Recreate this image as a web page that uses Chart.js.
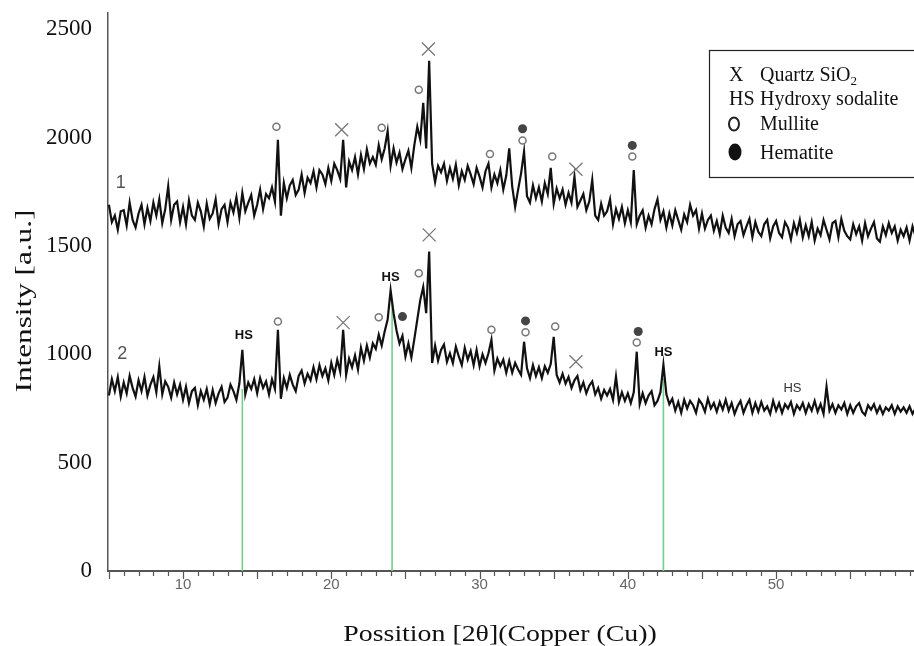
<!DOCTYPE html>
<html>
<head>
<meta charset="utf-8">
<script src="https://cdn.jsdelivr.net/npm/chart.js@4.4.1/dist/chart.umd.min.js"></script>
<style>
  html, body { margin: 0; padding: 0; background: #fff; }
</style>
</head>
<body>
<canvas id="xrd" width="914" height="646"></canvas>
<script>
// intensity, one value every 0.2 deg from 5.0 to 59.4
const sample1 = [
  1690, 1610, 1640, 1575, 1660,  1665, 1595, 1700, 1620, 1585,
  1650, 1690, 1600, 1675, 1615,  1700, 1640, 1715, 1605, 1670,
  1775, 1620, 1690, 1705, 1610,  1680, 1600, 1710, 1640, 1620,
  1700, 1660, 1590, 1695, 1625,  1650, 1715, 1600, 1670, 1690,
  1610, 1700, 1655, 1725, 1630,  1745, 1660, 1700, 1735, 1640,
  1690, 1760, 1670, 1740, 1720,  1770, 1705, 1990, 1640, 1790,
  1720, 1780, 1805, 1735, 1760,  1830, 1745, 1815, 1790, 1845,
  1770, 1850, 1830, 1785, 1860,  1800, 1880, 1850, 1810, 1990,
  1770, 1890, 1850, 1910, 1830,  1920, 1855, 1945, 1880, 1910,
  1875, 1965, 1900, 1950, 2030,  1870, 1950, 1885, 1930, 1855,
  1900, 1940, 1860, 1965, 2050,  1990, 2160, 1950, 2355, 1880,
  1795, 1870, 1840, 1880, 1800,  1860, 1810, 1875, 1780, 1845,
  1805, 1870, 1830, 1785, 1860,  1820, 1770, 1845, 1880, 1770,
  1830, 1790, 1850, 1760, 1825,  1950, 1775, 1680, 1760, 1835,
  1935, 1730, 1700, 1780, 1720,  1770, 1705, 1790, 1740, 1860,
  1695, 1765, 1720, 1760, 1690,  1745, 1700, 1820, 1680, 1710,
  1740, 1665, 1705, 1805, 1640,  1620, 1695, 1640, 1660, 1715,
  1600, 1670, 1625, 1680, 1605,  1665, 1610, 1850, 1600, 1640,
  1665, 1585, 1640, 1600, 1670,  1715, 1620, 1660, 1585, 1650,
  1595, 1665, 1620, 1575, 1645,  1610, 1690, 1640, 1665, 1580,
  1650, 1580, 1620, 1640, 1570,  1615, 1555, 1640, 1585, 1560,
  1625, 1545, 1600, 1615, 1550,  1590, 1625, 1540, 1610, 1565,
  1545, 1600, 1620, 1535, 1590,  1615, 1560, 1540, 1610, 1585,
  1530, 1605, 1560, 1620, 1540,  1595, 1545, 1610, 1525, 1580,
  1550, 1620, 1575, 1530, 1605,  1615, 1540, 1625, 1570, 1545,
  1530, 1600, 1555, 1590, 1525,  1605, 1545, 1580, 1610, 1535,
  1520, 1590, 1550, 1605, 1560,  1590, 1525, 1575, 1545, 1585,
  1525, 1590, 1545
];
const sample2 = [
  810, 885, 830, 895, 805,  870, 820, 900, 845, 805,
  880, 830, 895, 810, 860,  895, 825, 945, 815, 875,
  850, 800, 870, 815, 860,  790, 850, 775, 830, 845,
  765, 830, 790, 840, 770,  835, 775, 820, 850, 780,
  800, 860, 830, 790, 865,  1021, 815, 870, 840, 885,
  820, 890, 845, 875, 815,  885, 840, 1113, 795, 890,
  845, 905, 860, 830, 900,  925, 865, 910, 880, 940,
  885, 950, 900, 935, 880,  960, 905, 975, 920, 1113,
  905, 980, 940, 995, 930,  1030, 970, 1040, 985, 1050,
  1025, 1090, 1040, 1105, 1160,  1295, 1190, 1110, 1050, 1085,
  990, 1050, 985, 1070, 1160,  1250, 1310, 1190, 1474, 960,
  1040, 970, 1020, 1045, 965,  1005, 960, 1035, 990, 950,
  1030, 975, 1015, 950, 1020,  945, 1000, 960, 1005, 1067,
  925, 980, 945, 975, 915,  970, 915, 960, 930, 905,
  1058, 935, 890, 950, 900,  940, 890, 945, 915, 955,
  1081, 905, 870, 910, 865,  895, 845, 880, 900, 835,
  870, 820, 855, 875, 815,  845, 795, 835, 810, 840,
  790, 897, 780, 825, 785,  820, 775, 825, 1012, 770,
  820, 775, 810, 830, 765,  785, 825, 952, 815, 770,
  795, 740, 780, 730, 790,  750, 785, 765, 730, 790,
  770, 735, 795, 750, 775,  735, 780, 745, 790, 740,
  775, 725, 760, 785, 730,  765, 790, 730, 775, 735,
  780, 740, 760, 725, 785,  740, 775, 730, 770, 750,
  780, 725, 765, 745, 775,  730, 770, 740, 785, 735,
  770, 725, 850, 740, 770,  730, 765, 745, 775, 725,
  765, 730, 760, 775, 735,  720, 765, 745, 770, 730,
  760, 725, 755, 740, 765,  725, 760, 735, 755, 730,
  760, 725, 750
];
const twoTheta = sample1.map((_, i) => Math.round((5 + i * 0.2) * 10) / 10);

// green reference lines under the HS peaks
const hsLineX = [14.0, 24.1, 42.4];
const hsLineTop = [840, 1250, 890];

// phase markers above the peaks
const mulliteX = [16.3, 23.4, 25.9, 30.7, 32.9, 34.9, 40.3, 16.4, 23.2, 25.9, 30.8, 33.1, 35.1, 40.6];
const mulliteY = [2050, 2045, 2221, 1924, 1987, 1913, 1913, 1151, 1171, 1374, 1113, 1102, 1128, 1054];
const hematiteX = [32.9, 40.3, 24.8, 33.1, 40.7];
const hematiteY = [2041, 1964, 1174, 1154, 1105];
const quartzX = [20.7, 26.55, 36.5, 20.8, 26.6, 36.5];
const quartzY = [2036, 2409, 1854, 1146, 1551, 966];
const hsX = [14.1, 24.0, 42.4, 51.1];
const hsY = [1085, 1356, 1008, 843];

const yTicks = [0, 500, 1000, 1500, 2000, 2500];
const xTicks = [10, 20, 30, 40, 50];
const legendKeys = ['X', 'HS', '', ''];
const legendNames = ['Quartz SiO', 'Hydroxy sodalite', 'Mullite', 'Hematite'];
const seriesNames = ['1', '2'];

const toPts = (xs, ys) => xs.map((x, i) => ({ x, y: ys[i] }));

const greenSets = hsLineX.map((x, i) => ({
  data: [{ x, y: 0 }, { x, y: hsLineTop[i] }],
  showLine: true,
  borderColor: 'rgb(120, 205, 140)',
  borderWidth: 1.6,
  pointRadius: 0,
  order: 5
}));

const decor = {
  id: 'decor',
  afterDatasetsDraw(chart) {
    const { ctx, scales: { x, y } } = chart;
    ctx.save();
    // mullite: open circles
    ctx.strokeStyle = '#777';
    ctx.fillStyle = '#fff';
    ctx.lineWidth = 1.5;
    mulliteX.forEach((v, i) => {
      ctx.beginPath();
      ctx.arc(x.getPixelForValue(v), y.getPixelForValue(mulliteY[i]), 3.5, 0, Math.PI * 2);
      ctx.fill();
      ctx.stroke();
    });
    // hematite: filled dots
    ctx.fillStyle = '#444';
    hematiteX.forEach((v, i) => {
      ctx.beginPath();
      ctx.arc(x.getPixelForValue(v), y.getPixelForValue(hematiteY[i]), 4.5, 0, Math.PI * 2);
      ctx.fill();
    });
    // quartz: crosses
    ctx.strokeStyle = '#777';
    ctx.lineWidth = 1.3;
    quartzX.forEach((v, i) => {
      const px = x.getPixelForValue(v), py = y.getPixelForValue(quartzY[i]);
      ctx.beginPath();
      ctx.moveTo(px - 6.5, py - 6.5); ctx.lineTo(px + 6.5, py + 6.5);
      ctx.moveTo(px - 6.5, py + 6.5); ctx.lineTo(px + 6.5, py - 6.5);
      ctx.stroke();
    });
    ctx.restore();
  },
  afterDraw(chart) {
    const { ctx, scales: { x, y } } = chart;
    const base = y.getPixelForValue(0);
    ctx.save();

    // x axis tick marks
    ctx.strokeStyle = '#555';
    ctx.lineWidth = 1.2;
    for (let v = 5; v <= 59; v++) {
      const px = Math.round(x.getPixelForValue(v)) + 0.5;
      ctx.beginPath();
      ctx.moveTo(px, base);
      ctx.lineTo(px, base + (v % 5 === 0 ? 8 : 5));
      ctx.stroke();
    }

    // axis titles
    ctx.fillStyle = '#111';
    ctx.font = '24px "Liberation Serif"';
    ctx.textAlign = 'center';
    ctx.textBaseline = 'alphabetic';
    ctx.save();
    ctx.translate(500, 641);
    ctx.scale(1.16, 1);
    ctx.fillText('Possition [2θ](Copper (Cu))', 0, 0);
    ctx.restore();
    ctx.save();
    ctx.translate(31, 301);
    ctx.rotate(-Math.PI / 2);
    ctx.scale(1.3, 1);
    ctx.fillText('Intensity [a.u.]', 0, 0);
    ctx.restore();

    // series numbers
    ctx.fillStyle = '#555';
    ctx.font = '18px "Liberation Sans"';
    ctx.textBaseline = 'middle';
    ctx.fillText(seriesNames[0], x.getPixelForValue(5.8), y.getPixelForValue(1790));
    ctx.fillText(seriesNames[1], x.getPixelForValue(5.9), y.getPixelForValue(1000));

    // HS labels
    hsX.forEach((v, i) => {
      const last = i === hsX.length - 1;
      ctx.fillStyle = last ? '#333' : '#111';
      ctx.font = (last ? '' : 'bold ') + '13px "Liberation Sans"';
      ctx.fillText('HS', x.getPixelForValue(v), y.getPixelForValue(hsY[i]));
    });

    // legend box
    ctx.strokeStyle = '#222';
    ctx.lineWidth = 1.2;
    ctx.strokeRect(709.5, 50.5, 230, 127);
    ctx.fillStyle = '#111';
    ctx.textAlign = 'left';
    ctx.textBaseline = 'alphabetic';
    ctx.font = '20px "Liberation Serif"';
    const rows = [81, 105, 130, 159];
    ctx.fillText(legendKeys[0], 729, rows[0]);
    ctx.fillText(legendKeys[1], 729, rows[1]);
    legendNames.forEach((t, i) => ctx.fillText(t, 760, rows[i]));
    const w = ctx.measureText(legendNames[0]).width;
    ctx.font = '13px "Liberation Serif"';
    ctx.fillText('2', 760 + w, rows[0] + 4);
    ctx.lineWidth = 2;
    ctx.beginPath();
    ctx.ellipse(734, 124, 5, 6.5, 0, 0, Math.PI * 2);
    ctx.stroke();
    ctx.beginPath();
    ctx.ellipse(735, 152, 6.5, 8.5, 0, 0, Math.PI * 2);
    ctx.fill();

    ctx.restore();
  }
};

new Chart(document.getElementById('xrd'), {
  type: 'scatter',
  data: {
    datasets: [
      {
        label: '1',
        data: toPts(twoTheta, sample1),
        showLine: true,
        borderColor: '#111',
        borderWidth: 2.2,
        pointRadius: 0,
        order: 1
      },
      {
        label: '2',
        data: toPts(twoTheta, sample2),
        showLine: true,
        borderColor: '#111',
        borderWidth: 2.2,
        pointRadius: 0,
        order: 1
      },
      ...greenSets
    ]
  },
  options: {
    responsive: false,
    animation: false,
    devicePixelRatio: 1,
    layout: { padding: { top: 13, left: 0, right: 0, bottom: 0 } },
    plugins: { legend: { display: false }, tooltip: { enabled: false } },
    scales: {
      x: {
        type: 'linear',
        min: 4.94,
        max: 59.3,
        afterFit: s => { s.height = 75; s.paddingLeft = 0; s.paddingRight = 0; },
        afterBuildTicks: s => { s.ticks = xTicks.map(v => ({ value: v })); },
        grid: { display: true, drawOnChartArea: false, drawTicks: false },
        border: { color: '#555', width: 2 },
        ticks: {
          padding: 5,
          color: '#666',
          font: { family: 'Liberation Sans', size: 15 }
        }
      },
      y: {
        min: 0,
        max: 2575,
        afterFit: s => { s.width = 108; s.paddingTop = 0; s.paddingBottom = 0; },
        afterBuildTicks: s => { s.ticks = yTicks.map(v => ({ value: v })); },
        grid: { display: true, drawOnChartArea: false, drawTicks: false },
        border: { color: '#555', width: 1.5 },
        ticks: {
          padding: 16,
          color: '#111',
          font: { family: 'Liberation Serif', size: 23 },
          callback: v => String(v)
        }
      }
    }
  },
  plugins: [decor]
});
</script>
</body>
</html>
